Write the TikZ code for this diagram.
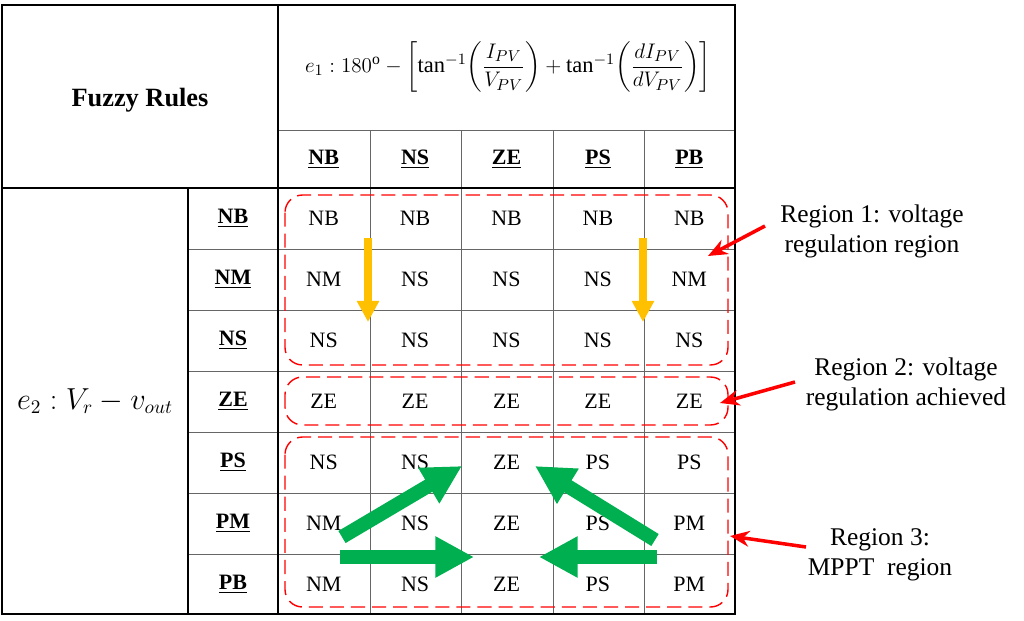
\documentclass[tikz,border=0pt]{standalone}
\usepackage{amsmath}
\usepackage{fontspec}
\setmainfont{Liberation Serif}
\usetikzlibrary{arrows.meta}
\definecolor{orng}{HTML}{FFC000}
\definecolor{grn}{HTML}{00B050}
\begin{document}
\begin{tikzpicture}[x=0.02cm,y=-0.02cm,
  thick line/.style={line width=1.4pt},
  thin line/.style={line width=0.4pt,black!60},
  cell/.style={font=\fontsize{12.5}{14}\selectfont},
  hdr/.style={font=\bfseries\fontsize{12.5}{14}\selectfont},
  region/.style={draw=red,dashed,dash pattern=on 8pt off 4pt,line width=0.8pt,rounded corners=10pt},
  regtext/.style={align=center,font=\fontsize{14.5}{17}\selectfont},
  redarrow/.style={draw=red,line width=2pt,-{Stealth[length=11pt,width=9pt]}},
  orangearrow/.style={draw=orng,line width=4pt,-{Triangle[length=12pt,width=12pt]}},
  greenarrow/.style={draw=grn,line width=8pt,-{Triangle[length=22pt,width=22pt]}}]
\useasboundingbox (0,0) rectangle (1024,621);
% grid
\foreach \x in {370,461,553,644} \draw[thin line] (\x,130) -- (\x,614);
\foreach \y in {249,310,371,432,493,554} \draw[thin line] (188,\y) -- (735,\y);
\draw[thin line] (278,130) -- (735,130);
\draw[thick line] (2,5) rectangle (735,614);
\draw[thick line] (278,5) -- (278,614);
\draw[thick line] (2,188) -- (735,188);
\draw[thick line] (188,188) -- (188,614);
% headers
\node[font=\bfseries\fontsize{15}{17}\selectfont] (fr) at (140,100) {Fuzzy Rules};
\node[font=\fontsize{12.8}{15}\selectfont] (e1) at (508,67) {$e_1: 180^{\mathrm{o}} - \left[\tan^{-1}\!\left(\dfrac{I_{PV}}{V_{PV}}\right) + \tan^{-1}\!\left(\dfrac{dI_{PV}}{dV_{PV}}\right)\right]$};
\node[font=\fontsize{16}{18}\selectfont] (e2) at (95,401) {$e_2: V_r - v_{out}$};
\foreach \t [count=\i] in {NB,NS,ZE,PS,PB}
  \node[hdr] (c\i) at ({278+(\i-0.5)*91.4},159) {\underline{\t}};
\foreach \t [count=\i] in {NB,NM,NS,ZE,PS,PM,PB}
  \node[hdr] (r\i) at (233,{188+(\i-0.5)*61}) {\underline{\t}};
% cells
\foreach \row [count=\j] in {{NB,NB,NB,NB,NB},{NM,NS,NS,NS,NM},{NS,NS,NS,NS,NS},{ZE,ZE,ZE,ZE,ZE},{NS,NS,ZE,PS,PS},{NM,NS,ZE,PS,PM},{NM,NS,ZE,PS,PM}}
  \foreach \t [count=\i] in \row
    \node[cell] (m\j\i) at ({278+(\i-0.5)*91.4},{188+(\j-0.5)*61}) {\t};
% regions
\draw[region] (285,195) rectangle (728,365);
\draw[region] (285,377) rectangle (728,425);
\draw[region] (285,437) rectangle (728,607);
% orange arrows
\coordinate (o1a) at (368,238); \coordinate (o1b) at (368,322);
\coordinate (o2a) at (643,238); \coordinate (o2b) at (643,322);
\draw[orangearrow] (o1a) -- (o1b);
\draw[orangearrow] (o2a) -- (o2b);
% green arrows
\coordinate (g1a) at (342,537); \coordinate (g1b) at (462,466);
\coordinate (g2a) at (340,557); \coordinate (g2b) at (474,557);
\coordinate (g3a) at (655,540); \coordinate (g3b) at (535,466);
\coordinate (g4a) at (657,557); \coordinate (g4b) at (539,557);
\draw[greenarrow] (g1a) -- (g1b);
\draw[greenarrow] (g2a) -- (g2b);
\draw[greenarrow] (g3a) -- (g3b);
\draw[greenarrow] (g4a) -- (g4b);
% region labels
\node[regtext] (t1) at (872,231) {Region 1: voltage\\regulation region};
\node[regtext] (t2) at (906,384) {Region 2: voltage\\regulation achieved};
\node[regtext] (t3) at (880,555) {Region 3:\\MPPT\ \ region};
\coordinate (a1) at (765,226); \coordinate (b1) at (708,256);
\coordinate (a2) at (795,382); \coordinate (b2) at (720,403);
\coordinate (a3) at (806,547); \coordinate (b3) at (730,536);
\draw[redarrow] (a1) -- (b1);
\draw[redarrow] (a2) -- (b2);
\draw[redarrow] (a3) -- (b3);
\end{tikzpicture}
\end{document}
